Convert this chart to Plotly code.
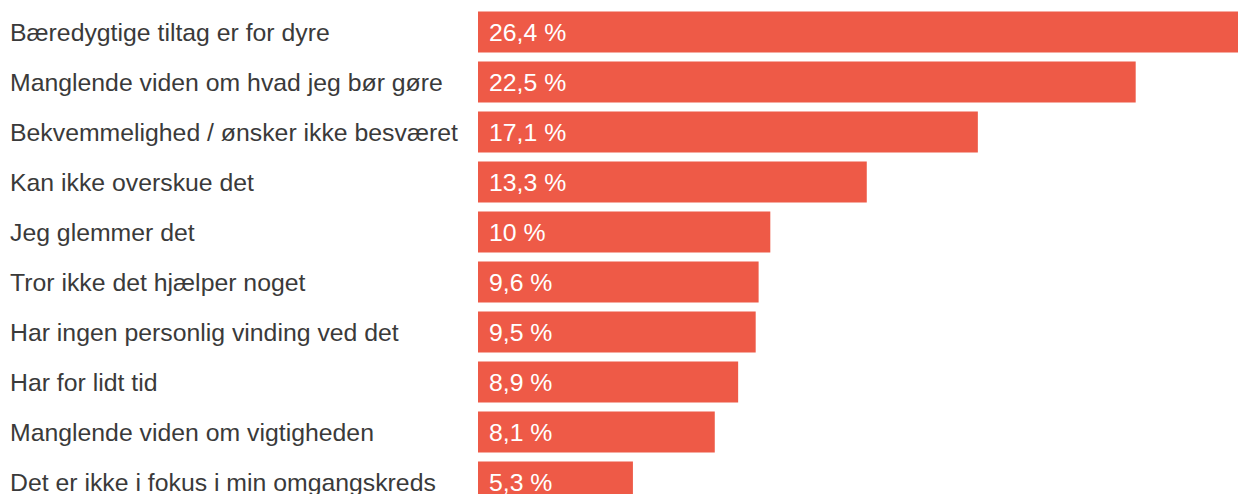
import plotly.graph_objects as go

categories = [
    "Bæredygtige tiltag er for dyre",
    "Manglende viden om hvad jeg bør gøre",
    "Bekvemmelighed / ønsker ikke besværet",
    "Kan ikke overskue det",
    "Jeg glemmer det",
    "Tror ikke det hjælper noget",
    "Har ingen personlig vinding ved det",
    "Har for lidt tid",
    "Manglende viden om vigtigheden",
    "Det er ikke i fokus i min omgangskreds",
]
values = [26.4, 22.5, 17.1, 13.3, 10.0, 9.6, 9.5, 8.9, 8.1, 5.3]
value_labels = ["26,4 %", "22,5 %", "17,1 %", "13,3 %", "10 %", "9,6 %", "9,5 %", "8,9 %", "8,1 %", "5,3 %"]

W, H = 1238, 494
ML, MT = 478, 7
plot_w = W - ML
FONT = "Liberation Sans, Arial, sans-serif"
FS = 24.8

fig = go.Figure(go.Bar(
    x=values, y=categories, orientation="h",
    marker=dict(color="#ee5a47", line=dict(width=0)),
    hoverinfo="skip",
))

annotations = []
for cat, lab in zip(categories, value_labels):
    annotations.append(dict(
        x=0, y=cat, xref="x", yref="y", text=lab, showarrow=False,
        xanchor="left", yanchor="middle", xshift=9,
        font=dict(family=FONT, size=FS, color="#ffffff"),
    ))
    annotations.append(dict(
        x=-(ML - 8) / plot_w, y=cat, xref="paper", yref="y", text=cat, showarrow=False,
        xanchor="left", yanchor="middle",
        font=dict(family=FONT, size=FS, color="#3a3a3a"),
    ))

fig.update_layout(
    width=W, height=H,
    margin=dict(l=ML, r=0, t=MT, b=0),
    paper_bgcolor="white", plot_bgcolor="white",
    bargap=0.18,
    showlegend=False,
    xaxis=dict(range=[0, 26.0], visible=False, fixedrange=True),
    yaxis=dict(type="category", categoryorder="array", categoryarray=categories,
               range=[9.24, -0.5], showticklabels=False, showgrid=False,
               zeroline=False, fixedrange=True),
    annotations=annotations,
)

fig.write_html(
    "out.html",
    config={"displayModeBar": False},
    post_script="document.body.style.margin='0';document.body.style.overflow='hidden';",
)
